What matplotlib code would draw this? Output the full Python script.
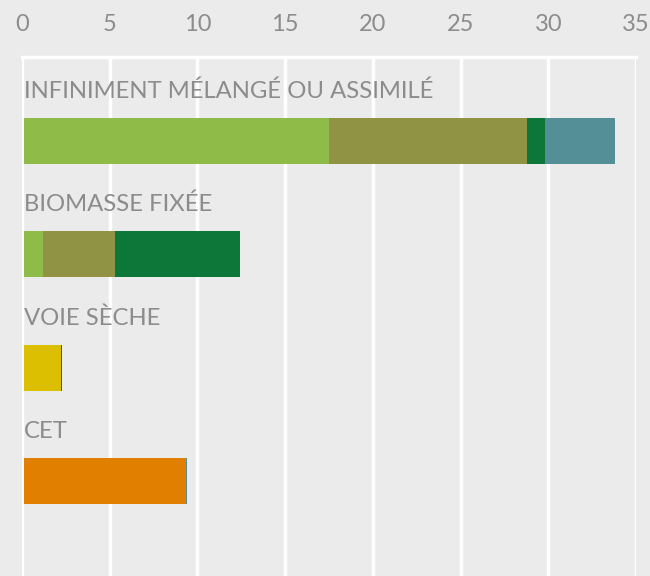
import matplotlib.pyplot as plt
import numpy as np

# categories (top to bottom) and stacked segment values
categories = ["INFINIMENT MÉLANGÉ OU ASSIMILÉ", "BIOMASSE FIXÉE", "VOIE SÈCHE", "CET"]
light_green = [17.4, 1.1, 0.0, 0.0]
olive = [11.3, 4.1, 0.0, 0.0]
dark_green = [1.0, 7.1, 0.05, 0.0]
yellow = [0.0, 0.0, 2.15, 0.0]
orange = [0.0, 0.0, 0.0, 9.25]
teal = [4.0, 0.0, 0.0, 0.05]

series = [light_green, olive, yellow, orange, dark_green, teal]
colors = ["#8fbc48", "#919344", "#dcbf00", "#e07f00", "#0c7738", "#548f97"]
ticks = [0, 5, 10, 15, 20, 25, 30, 35]

bg = "#ebebeb"
txt = "#8c8c8c"
plt.rcParams['font.family'] = ['Lato', 'DejaVu Sans']

fig = plt.figure(figsize=(6.5, 5.76), dpi=100, facecolor=bg)
ax = fig.add_axes([22 / 650, 0, 614 / 650, 1 - 57 / 576])
ax.set_facecolor(bg)

y = np.arange(len(categories))
left = np.zeros(len(categories)) + 0.1
for vals, c in zip(series, colors):
    v = np.array(vals)
    ax.barh(y, v, left=left, height=0.405, color=c, zorder=3)
    left += v

for i, name in enumerate(categories):
    ax.text(0.1, i - 0.44, name, color=txt, fontsize=17.2, va='center', ha='left')

ax.set_xlim(0, 35)
ax.set_ylim(3.837, -0.74)
ax.set_xticks(ticks)
ax.xaxis.tick_top()
ax.tick_params(axis='x', length=0, pad=16, labelsize=17, labelcolor=txt)
ax.set_yticks([])
ax.grid(axis='x', color='white', linewidth=2.5, zorder=0)
for s in ['left', 'right', 'bottom']:
    ax.spines[s].set_visible(False)
ax.spines['top'].set_color('white')
ax.spines['top'].set_linewidth(2.5)

fig.savefig("out.png", dpi=100, facecolor=bg)
